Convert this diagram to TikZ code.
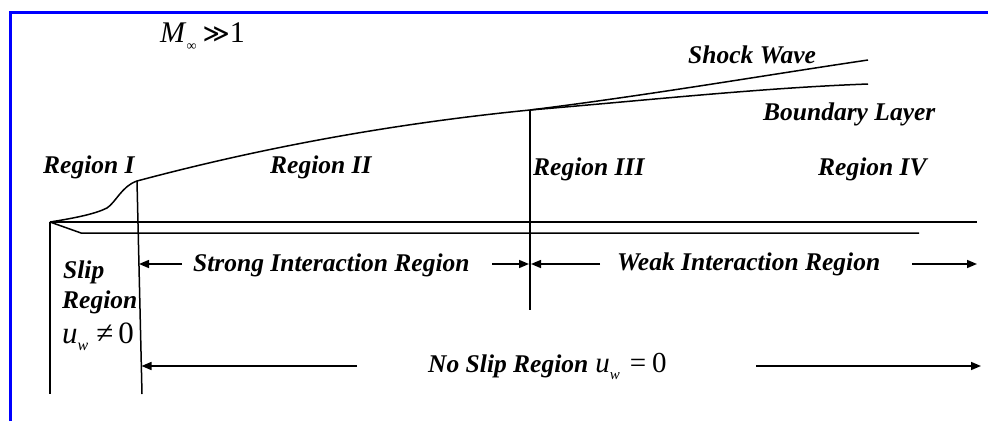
\documentclass[tikz,border=0pt]{standalone}
\usepackage{fontspec}
\setmainfont{Liberation Serif}
\newfontfamily\symfont{DejaVu Sans}
\usetikzlibrary{arrows.meta}

\tikzset{
  lbl/.style={font=\fontsize{25.5}{27}\selectfont\bfseries\itshape, inner sep=0pt, anchor=base west},
  eqbig/.style={font=\fontsize{31}{33}\selectfont, inner sep=0pt, anchor=base west},
  flow/.style={line width=1.5pt, line join=round},
  dimarrow/.style={line width=1.5pt, -{Triangle[length=10pt,width=8pt]}},
  frameline/.style={draw=blue, line width=3pt}
}

\begin{document}
\begin{tikzpicture}[x=1pt, y=-1pt]
\useasboundingbox (0,0) rectangle (988,421);

% partial blue frame
\draw[frameline] (10.5,421) -- (10.5,12.5) -- (988,12.5);

% key points of the flow field
\coordinate (le)     at (50,222);
\coordinate (bend)   at (107,208);
\coordinate (sA)     at (137,181);
\coordinate (sB)     at (530,110);
\coordinate (swEnd)  at (868,60);
\coordinate (blEnd)  at (868,84);
\coordinate (topEnd) at (977,222);
\coordinate (kink)   at (81,233);
\coordinate (lowEnd) at (919,233);
\coordinate (v0)     at (50,394);
\coordinate (v1)     at (142,394);
\coordinate (v2)     at (530,310);

% shock / boundary-layer edge from the leading edge
\draw[flow] (le) .. controls (75,218) and (95,214) .. (bend)
               .. controls (116,202) and (122,186) .. (sA)
               .. controls (268,146) and (399,123) .. (sB);
\draw[flow] (sB) .. controls (650,95) and (760,76) .. (swEnd);
\draw[flow] (sB) .. controls (650,100) and (760,88) .. (blEnd);

% plate
\draw[flow] (le) -- (topEnd);
\draw[flow] (le) -- (kink) -- (lowEnd);

% region boundaries
\draw[flow] (le) -- (v0);
\draw[flow] (sA) -- (v1);
\draw[flow] (sB) -- (v2);

% labels
\node[eqbig] (mach) at (160,42) {\fontsize{30}{32}\selectfont\textit{M}\raisebox{-8pt}{\fontsize{14}{14}\selectfont ∞}\hspace{6pt}{\symfont\fontsize{26}{27}\selectfont ≫}1};
\node[lbl] (shock) at (688,63) {Shock Wave};
\node[lbl] (blayer) at (763,120) {Boundary Layer};
\node[lbl] (r1) at (43,173) {Region I};
\node[lbl] (r2) at (270,173) {Region II};
\node[lbl] (r3) at (533,175) {Region III};
\node[lbl] (r4) at (818,175) {Region IV};
\node[lbl] (strong) at (193,271) {Strong Interaction Region};
\node[lbl] (weak) at (617,270) {Weak Interaction Region};
\node[lbl] (slip1) at (63,278) {Slip};
\node[lbl] (slip2) at (62,308) {Region};
\node[eqbig] (slipeq) at (62,343) {\textit{u}\raisebox{-7pt}{\fontsize{16}{16}\selectfont\textit{w}}\hspace{8pt}≠\hspace{5pt}0};
\node[lbl] (noslip) at (428,372) {No Slip Region\hspace{7pt}{\mdseries\upshape\fontsize{29}{31}\selectfont\textit{u}\raisebox{-7pt}{\fontsize{15}{15}\selectfont\textit{w}}\hspace{10pt}=\hspace{6pt}0}};

% extent arrows
\coordinate (sTailL) at (182,264);
\coordinate (sHeadL) at (139,264);
\coordinate (sTailR) at (492,264);
\coordinate (sHeadR) at (529,264);
\coordinate (wTailL) at (600,264);
\coordinate (wHeadL) at (531,264);
\coordinate (wTailR) at (912,264);
\coordinate (wHeadR) at (977,264);
\coordinate (nTailL) at (357,366);
\coordinate (nHeadL) at (141.5,366);
\coordinate (nTailR) at (756,366);
\coordinate (nHeadR) at (981,366);
\draw[dimarrow] (sTailL) -- (sHeadL);
\draw[dimarrow] (sTailR) -- (sHeadR);
\draw[dimarrow] (wTailL) -- (wHeadL);
\draw[dimarrow] (wTailR) -- (wHeadR);
\draw[dimarrow] (nTailL) -- (nHeadL);
\draw[dimarrow] (nTailR) -- (nHeadR);
\end{tikzpicture}
\end{document}
